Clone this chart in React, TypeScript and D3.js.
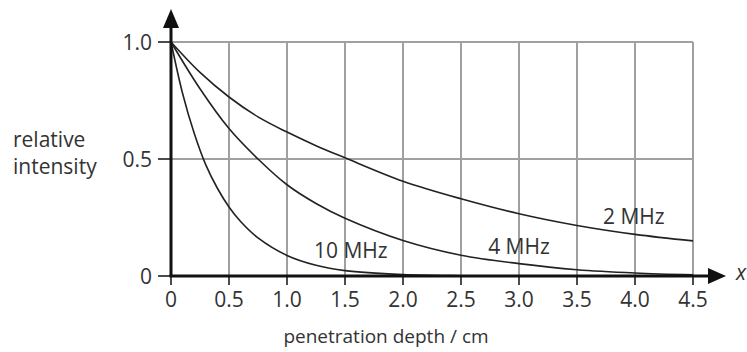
import * as d3 from "d3";

// chart size
const W = 747;
const H = 352;

// axis ticks
const xTicks = [0, 0.5, 1.0, 1.5, 2.0, 2.5, 3.0, 3.5, 4.0, 4.5];
const xTickLabels = ["0", "0.5", "1.0", "1.5", "2.0", "2.5", "3.0", "3.5", "4.0", "4.5"];
const yTicks = [0, 0.5, 1.0];
const yTickLabels = ["0", "0.5", "1.0"];

// curves: depth (cm) and relative intensity
const depth2 = [0, 0.25, 0.5, 0.75, 1.0, 1.25, 1.5, 2.0, 2.5, 3.0, 3.5, 4.0, 4.5];
const int2 = [1, 0.87, 0.765, 0.68, 0.615, 0.557, 0.505, 0.405, 0.33, 0.266, 0.216, 0.178, 0.15];

const depth4 = [0, 0.25, 0.5, 0.75, 1.0, 1.25, 1.5, 2.0, 2.5, 3.0, 3.5, 4.0, 4.5];
const int4 = [1, 0.8, 0.63, 0.5, 0.39, 0.31, 0.247, 0.152, 0.089, 0.053, 0.027, 0.013, 0.005];

const depth10 = [0, 0.1, 0.2, 0.3, 0.4, 0.5, 0.6, 0.75, 1.0, 1.25, 1.5, 2.0, 2.5, 3.0, 4.5];
const int10 = [1, 0.78, 0.61, 0.475, 0.375, 0.295, 0.233, 0.163, 0.088, 0.046, 0.023, 0.006, 0.001, 0, 0];

const series = [
  { label: "2 MHz", xs: depth2, ys: int2, lx: 3.99, ly: 0.223 },
  { label: "4 MHz", xs: depth4, ys: int4, lx: 3.0, ly: 0.095 },
  { label: "10 MHz", xs: depth10, ys: int10, lx: 1.55, ly: 0.077 },
];

const FONT = "'Open Sans', sans-serif";
const TEXT = "#333";

export default function App() {
  const x = d3.scaleLinear().domain([0, 4.5]).range([171, 693]);
  const y = d3.scaleLinear().domain([0, 1]).range([276, 42]);

  const line = d3
    .line<[number, number]>()
    .x((d) => x(d[0]))
    .y((d) => y(d[1]))
    .curve(d3.curveCatmullRom.alpha(0.5));

  return (
    <svg
      width={W}
      height={H}
      style={{ position: "absolute", left: 0, top: 0, background: "#fff" }}
      fontFamily={FONT}
    >
      {/* grid */}
      {xTicks.slice(1).map((t) => (
        <line key={"gx" + t} x1={x(t)} x2={x(t)} y1={y(1)} y2={y(0)} stroke="#a0a0a0" strokeWidth={2} />
      ))}
      {yTicks.slice(1).map((t) => (
        <line key={"gy" + t} x1={x(0)} x2={x(4.5)} y1={y(t)} y2={y(t)} stroke="#a0a0a0" strokeWidth={2} />
      ))}

      {/* curves */}
      {series.map((s) => (
        <path
          key={s.label}
          d={line(s.xs.map((v, i) => [v, s.ys[i]]) as [number, number][]) || ""}
          fill="none"
          stroke="#222"
          strokeWidth={1.6}
        />
      ))}
      {series.map((s) => (
        <text key={s.label + "t"} x={x(s.lx)} y={y(s.ly)} textAnchor="middle" fontSize={21} fill={TEXT}>
          {s.label}
        </text>
      ))}

      {/* y axis */}
      <line x1={x(0)} x2={x(0)} y1={y(0)} y2={24} stroke="#111" strokeWidth={3} />
      <path d={`M${x(0)},9 L${x(0) - 8},28 L${x(0) + 8},28 Z`} fill="#111" />
      {yTicks.map((t, i) => (
        <g key={"yt" + t}>
          <line x1={x(0) - 13} x2={x(0)} y1={y(t)} y2={y(t)} stroke="#111" strokeWidth={1.5} />
          <text x={x(0) - 19} y={y(t)} dy="0.36em" textAnchor="end" fontSize={21} fill={TEXT}>
            {yTickLabels[i]}
          </text>
        </g>
      ))}

      {/* x axis */}
      <line x1={x(0) - 1.5} x2={712} y1={y(0)} y2={y(0)} stroke="#111" strokeWidth={3} />
      <path d={`M726,${y(0)} L708,${y(0) - 8} L708,${y(0) + 8} Z`} fill="#111" />
      {xTicks.map((t, i) => (
        <g key={"xt" + t}>
          <line x1={x(t)} x2={x(t)} y1={y(0)} y2={y(0) + 9} stroke="#111" strokeWidth={1.5} />
          <text x={x(t)} y={307} textAnchor="middle" fontSize={21} fill={TEXT}>
            {xTickLabels[i]}
          </text>
        </g>
      ))}
      <text x={736} y={280} fontSize={21} fontStyle="italic" fill={TEXT}>
        x
      </text>

      {/* axis titles */}
      <text x={386} y={343} textAnchor="middle" fontSize={19} fill={TEXT}>
        penetration depth / cm
      </text>
      <text x={13} y={147} fontSize={21} fill={TEXT}>
        relative
      </text>
      <text x={13} y={174} fontSize={21} fill={TEXT}>
        intensity
      </text>
    </svg>
  );
}
